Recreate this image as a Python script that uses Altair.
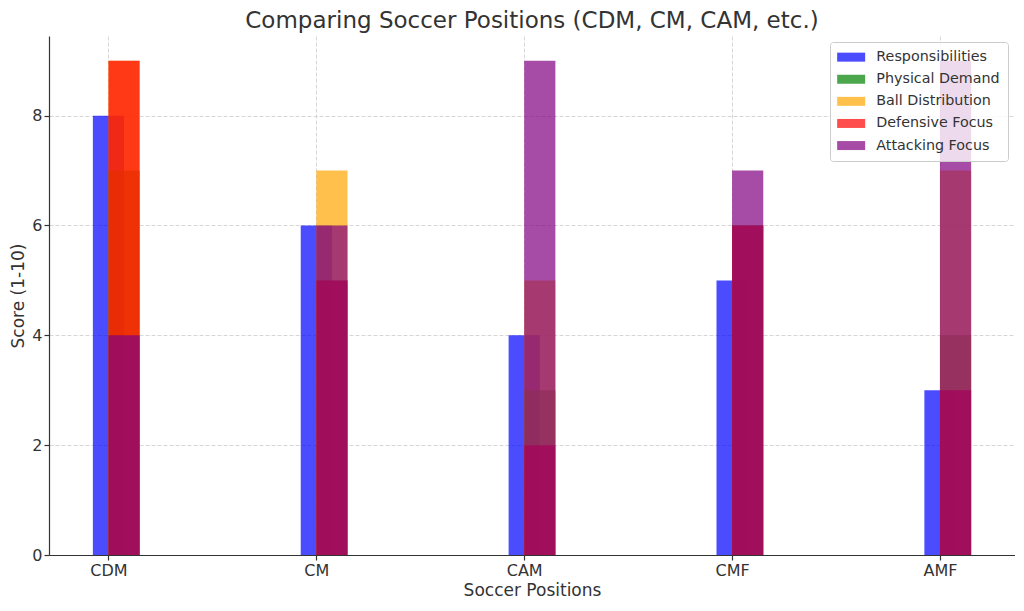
import altair as alt
import pandas as pd

positions = ["CDM", "CM", "CAM", "CMF", "AMF"]
series = ["Responsibilities", "Physical Demand", "Ball Distribution",
          "Defensive Focus", "Attacking Focus"]
responsibilities = [8, 6, 4, 5, 3]
physical_demand = [7, 5, 3, 6, 4]
ball_distribution = [9, 7, 5, 6, 7]
defensive_focus = [9, 5, 2, 6, 3]
attacking_focus = [4, 6, 9, 7, 9]
colors = ["#0000ff", "#008000", "#ffa500", "#ff0000", "#800080"]
y_ticks = [0, 2, 4, 6, 8]

BAR_W = 0.15
FONT = "DejaVu Sans"
TXT = "#333333"

rows = []
for s, vals in zip(series, [responsibilities, physical_demand, ball_distribution,
                            defensive_focus, attacking_focus]):
    for i, (p, v) in enumerate(zip(positions, vals)):
        rows.append({"series": s, "pos": p, "idx": i, "score": v})
df = pd.DataFrame(rows)

label_expr = "[" + ",".join(f"'{p}'" for p in positions) + "][datum.value]"

bars = alt.Chart(df).transform_calculate(
    x0=f"datum.idx + (datum.series == '{series[0]}' ? {-BAR_W / 2} : 0)",
    x1=f"datum.idx + (datum.series == '{series[0]}' ? {BAR_W / 2} : {BAR_W})",
    zero="0",
).mark_bar(opacity=0.7, strokeWidth=0).encode(
    x=alt.X("x0:Q",
            scale=alt.Scale(domain=[-0.286, 4.361], nice=False, zero=False),
            axis=alt.Axis(values=list(range(len(positions))), labelExpr=label_expr,
                          title="Soccer Positions", labelPadding=2, titlePadding=4)),
    x2="x1:Q",
    y=alt.Y("score:Q", scale=alt.Scale(domain=[0, 9.45], nice=False),
            axis=alt.Axis(values=y_ticks, title="Score (1-10)", labelPadding=2,
                          titlePadding=4)),
    y2="zero:Q",
    color=alt.Color("series:N", scale=alt.Scale(domain=series, range=colors),
                    legend=alt.Legend(
                        title=None, orient="none", legendX=781, legendY=6,
                        padding=8, fillColor="rgba(255,255,255,0.8)",
                        strokeColor="#cccccc", cornerRadius=3,
                        symbolType="M-2.8,-0.9L2.8,-0.9L2.8,0.9L-2.8,0.9Z",
                        symbolSize=100, symbolStrokeWidth=0, symbolOffset=6,
                        symbolOpacity=0.7, labelOffset=18, labelFontSize=14.3,
                        labelColor=TXT, labelFont=FONT, rowPadding=7.1)),
)

chart = bars.properties(
    width=966, height=519,
    autosize=alt.AutoSizeParams(type="none"),
    padding={"left": 41, "top": 28, "right": 0, "bottom": 50},
    title=alt.TitleParams("Comparing Soccer Positions (CDM, CM, CAM, etc.)",
                          fontSize=23, color=TXT, font=FONT, fontWeight="normal",
                          anchor="middle", offset=3),
).configure_view(stroke=None).configure_axis(
    labelFont=FONT, titleFont=FONT, labelFontSize=16, titleFontSize=17,
    labelColor=TXT, titleColor=TXT, titleFontWeight="normal",
    domainColor="#333333", domainWidth=1.2, tickColor="#333333", tickSize=5,
    tickWidth=1.2, gridColor="#cccccc", gridDash=[4, 2], gridWidth=0.8,
    zindex=1,
)

chart.save("out.html", embed_options={"renderer": "svg", "actions": False})
